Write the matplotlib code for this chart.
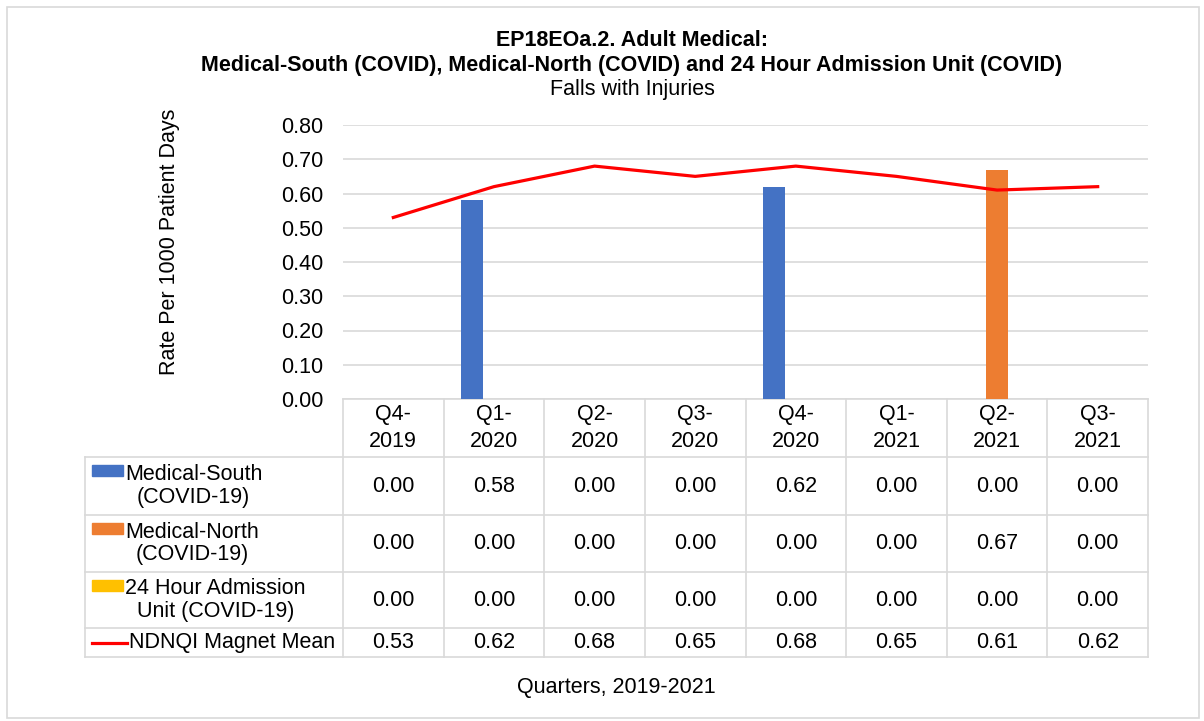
import matplotlib.pyplot as plt
from matplotlib.patches import Rectangle

plt.rcParams['font.family'] = ['Liberation Sans', 'DejaVu Sans']

quarters = ["Q4-\n2019", "Q1-\n2020", "Q2-\n2020", "Q3-\n2020",
            "Q4-\n2020", "Q1-\n2021", "Q2-\n2021", "Q3-\n2021"]
med_south = [0.00, 0.58, 0.00, 0.00, 0.62, 0.00, 0.00, 0.00]
med_north = [0.00, 0.00, 0.00, 0.00, 0.00, 0.00, 0.67, 0.00]
adm_unit = [0.00, 0.00, 0.00, 0.00, 0.00, 0.00, 0.00, 0.00]
ndnqi = [0.53, 0.62, 0.68, 0.65, 0.68, 0.65, 0.61, 0.62]

names = ["Medical-South\n(COVID-19)", "Medical-North\n(COVID-19)",
         "24 Hour Admission\nUnit (COVID-19)", "NDNQI Magnet Mean"]
colors = ["#4472c4", "#ed7d31", "#ffc000", "#ff0000"]
grid_c = "#d9d9d9"
fs = 15.5

W, H = 1204, 721
fig = plt.figure(figsize=(W / 100, H / 100), dpi=100)
fig.patches.append(Rectangle((7 / W, 3 / H), 1192 / W, 711 / H, transform=fig.transFigure,
                             fill=False, edgecolor="#d9d9d9", linewidth=1.2))

left, right = 343, 1148
ax = fig.add_axes([left / W, 1 - 399 / H, (right - left) / W, (399 - 125) / H])
n = len(quarters)
xs = [i + 0.5 for i in range(n)]
bw = 0.22
ax.bar([x - bw for x in xs], med_south, bw, color=colors[0], zorder=3)
ax.bar(xs, med_north, bw, color=colors[1], zorder=3)
ax.bar([x + bw for x in xs], adm_unit, bw, color=colors[2], zorder=3)
ax.plot(xs, ndnqi, color=colors[3], linewidth=2.3, zorder=4)
ax.set_xlim(0, n)
ax.set_ylim(0, 0.8)
ax.set_yticks([i / 10 for i in range(9)])
ax.set_yticklabels(["%.2f" % (i / 10) for i in range(9)], fontsize=fs)
ax.set_xticks([])
ax.tick_params(axis='y', length=0, pad=14)
ax.grid(axis='y', color=grid_c, linewidth=1.2, zorder=0)
for s in ["left", "right", "top"]:
    ax.spines[s].set_visible(False)
ax.spines["bottom"].set_color(grid_c)
ax.spines["bottom"].set_linewidth(1.2)
fig.text(169 / W, 1 - 242 / H, "Rate Per 1000 Patient Days", rotation=90,
         ha="center", va="center", fontsize=fs)

# table under the plot, y in pixel units
tb = fig.add_axes([left / W, 1 - 657 / H, (right - left) / W, (657 - 399) / H])
tb.set_xlim(0, n)
tb.set_ylim(657, 399)
tb.axis("off")
cw = (right - left) / n


def px(p):
    return (p - left) / cw


rows = [399, 457, 515, 572, 628, 657]
lk = dict(color=grid_c, linewidth=1.2, clip_on=False)
for i in range(n + 1):
    tb.plot([i, i], [399, 657], **lk)
tb.plot([px(85), px(85)], [457, 657], **lk)
for y in rows[1:]:
    tb.plot([px(85), n], [y, y], **lk)

for i, q in enumerate(quarters):
    tb.text(xs[i], 428, q, ha="center", va="center", fontsize=fs, linespacing=1.35)

series = [med_south, med_north, adm_unit, ndnqi]
for r, vals in enumerate(series):
    yc = (rows[r + 1] + rows[r + 2]) / 2
    for i, v in enumerate(vals):
        tb.text(xs[i], yc, "%.2f" % v, ha="center", va="center", fontsize=fs)
    if r < 3:
        ytop = rows[r + 1] + 8
        tb.add_patch(Rectangle((px(92), ytop), px(123) - px(92), 11,
                               color=colors[r], clip_on=False))
        tb.text(px(125), yc, names[r], ha="left", va="center", fontsize=fs,
                multialignment="center", linespacing=1.12)
    else:
        tb.plot([px(92), px(127)], [yc, yc], color=colors[r], linewidth=2.3, clip_on=False)
        tb.text(px(129), yc, names[r], ha="left", va="center", fontsize=fs)

fig.text(632 / W, 1 - 40 / H, "EP18EOa.2. Adult Medical:", ha="center", va="center",
         fontsize=fs, fontweight="bold")
fig.text(632 / W, 1 - 65 / H,
         "Medical-South (COVID), Medical-North (COVID) and 24 Hour Admission Unit (COVID)",
         ha="center", va="center", fontsize=fs, fontweight="bold")
fig.text(632 / W, 1 - 90 / H, "Falls with Injuries", ha="center", va="center", fontsize=fs)
fig.text(616 / W, 1 - 687 / H, "Quarters, 2019-2021", ha="center", va="center", fontsize=fs)

fig.savefig("out.png", dpi=100)
